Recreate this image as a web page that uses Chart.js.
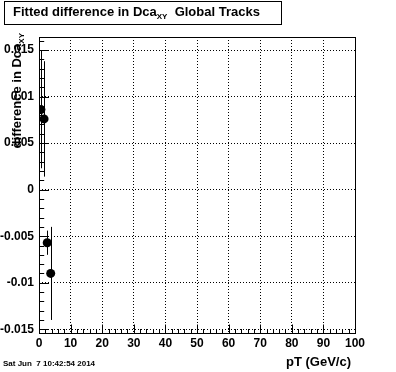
<!DOCTYPE html>
<html>
<head>
<meta charset="utf-8">
<script src="https://cdn.jsdelivr.net/npm/chart.js@4.4.0/dist/chart.umd.min.js"></script>
<style>
  html, body { margin: 0; padding: 0; background: #fff; }
  #wrap { width: 396px; height: 372px; position: relative; }
</style>
</head>
<body>
<div id="wrap"><canvas id="myChart" width="396" height="372"></canvas></div>
<script>
// data
const ptValues = [0.6, 1.6, 2.6, 3.7];
const dcaDiff = [0.0086, 0.0076, -0.0057, -0.0090];
const dcaErr = [0.0063, 0.0062, 0.0013, 0.0050];

const xTicks = [0, 10, 20, 30, 40, 50, 60, 70, 80, 90, 100];
const yTicks = [-0.015, -0.01, -0.005, 0, 0.005, 0.01, 0.015];
const yTickLabels = ["-0.015", "-0.01", "-0.005", "0", "0.005", "0.01", "0.015"];

const titleMain = "Fitted difference in Dca";
const titleSub = "XY";
const titleTail = "  Global Tracks";
const yTitleMain = "difference in Dca";
const xTitle = "pT (GeV/c)";
const dateText = "Sat Jun  7 10:42:54 2014";

const FONT = "'Liberation Sans', Arial, Helvetica, sans-serif";

const rootPlugin = {
    id: "rootStyle",
    afterDatasetsDraw(chart) {
        const ctx = chart.ctx;
        const x = chart.scales.x, y = chart.scales.y;
        ctx.save();
        ctx.strokeStyle = "#000";
        ctx.lineWidth = 1;
        // error bars
        for (let i = 0; i < ptValues.length; i++) {
            const px = Math.round(x.getPixelForValue(ptValues[i])) + 0.5;
            ctx.beginPath();
            ctx.moveTo(px, y.getPixelForValue(dcaDiff[i] + dcaErr[i]));
            ctx.lineTo(px, y.getPixelForValue(dcaDiff[i] - dcaErr[i]));
            ctx.stroke();
        }
        ctx.restore();
    },
    afterDraw(chart) {
        const ctx = chart.ctx;
        const a = chart.chartArea;
        const x = chart.scales.x, y = chart.scales.y;
        ctx.save();
        ctx.strokeStyle = "#000";
        ctx.lineWidth = 1;
        const L = Math.round(a.left) + 0.5, R = Math.round(a.right) + 0.5;
        const T = Math.round(a.top) + 0.5, B = Math.round(a.bottom) + 0.5;
        ctx.strokeRect(L, T, R - L, B - T);

        // x ticks, inward from the bottom
        ctx.beginPath();
        for (let v = 0; v <= 100; v += 2) {
            const px = Math.round(x.getPixelForValue(v)) + 0.5;
            const len = (v % 10 === 0) ? 9 : 4.5;
            ctx.moveTo(px, B);
            ctx.lineTo(px, B - len);
        }
        // y ticks, inward from the left
        for (let k = -15; k <= 16; k++) {
            const py = Math.round(y.getPixelForValue(k / 1000)) + 0.5;
            const len = (k % 5 === 0) ? 9.5 : 4.7;
            ctx.moveTo(L, py);
            ctx.lineTo(L + len, py);
        }
        ctx.stroke();

        // title box
        ctx.fillStyle = "#fff";
        ctx.fillRect(4, 1, 277, 23);
        ctx.strokeRect(4.5, 1.5, 277, 23);
        ctx.fillStyle = "#000";
        ctx.textBaseline = "alphabetic";
        ctx.textAlign = "left";
        ctx.font = "bold 13px " + FONT;
        let tx = 13;
        ctx.fillText(titleMain, tx, 16);
        tx += ctx.measureText(titleMain).width;
        ctx.font = "bold 8px " + FONT;
        ctx.fillText(titleSub, tx, 19);
        tx += ctx.measureText(titleSub).width;
        ctx.font = "bold 13px " + FONT;
        ctx.fillText(titleTail, tx, 16);

        // y axis title, rotated, right-aligned at the top
        ctx.save();
        ctx.translate(21, 33);
        ctx.rotate(-Math.PI / 2);
        ctx.font = "bold 8px " + FONT;
        const subW = ctx.measureText(titleSub).width;
        ctx.textAlign = "right";
        ctx.fillText(titleSub, 0, 3);
        ctx.font = "bold 13px " + FONT;
        ctx.fillText(yTitleMain, -subW, 0);
        ctx.restore();

        // x axis title
        ctx.font = "bold 13px " + FONT;
        ctx.textAlign = "right";
        ctx.fillText(xTitle, 351, 366);

        // date stamp
        ctx.font = "bold 8px " + FONT;
        ctx.textAlign = "left";
        ctx.fillText(dateText, 3, 366);
        ctx.restore();
    }
};

const config = {
    type: "scatter",
    data: {
        datasets: [
            {
                label: "dca",
                data: ptValues.map(function (v, i) { return { x: v, y: dcaDiff[i] }; }),
                backgroundColor: "#000",
                borderColor: "#000",
                borderWidth: 0,
                pointRadius: 4.5,
                pointHoverRadius: 4.5,
            },
        ],
    },
    options: {
        responsive: false,
        animation: false,
        events: [],
        layout: {
            padding: { left: 0, right: 41, top: 37, bottom: 19 },
        },
        plugins: {
            legend: { display: false },
            tooltip: { enabled: false },
        },
        scales: {
            x: {
                type: "linear",
                min: 0,
                max: 100,
                afterBuildTicks: function (scale) {
                    scale.ticks = xTicks.map(function (v) { return { value: v }; });
                },
                afterFit: function (scale) { scale.height = 20; },
                ticks: {
                    color: "#000",
                    font: { family: FONT, size: 12, weight: 700 },
                    padding: 3,
                    maxRotation: 0,
                    autoSkip: false,
                },
                grid: {
                    color: "#000",
                    lineWidth: 1,
                    drawTicks: false,
                },
                border: { display: false, dash: [1, 2] },
            },
            y: {
                type: "linear",
                min: -0.0154,
                max: 0.0164,
                afterBuildTicks: function (scale) {
                    scale.ticks = yTicks.map(function (v) { return { value: v }; });
                },
                afterFit: function (scale) { scale.width = 39; },
                ticks: {
                    color: "#000",
                    font: { family: FONT, size: 12, weight: 700 },
                    padding: 5,
                    autoSkip: false,
                    callback: function (value, index) { return yTickLabels[index]; },
                },
                grid: {
                    color: "#000",
                    lineWidth: 1,
                    drawTicks: false,
                },
                border: { display: false, dash: [1, 2] },
            },
        },
    },
    plugins: [rootPlugin],
};

var myChart = new Chart(document.getElementById("myChart"), config);
</script>
</body>
</html>
